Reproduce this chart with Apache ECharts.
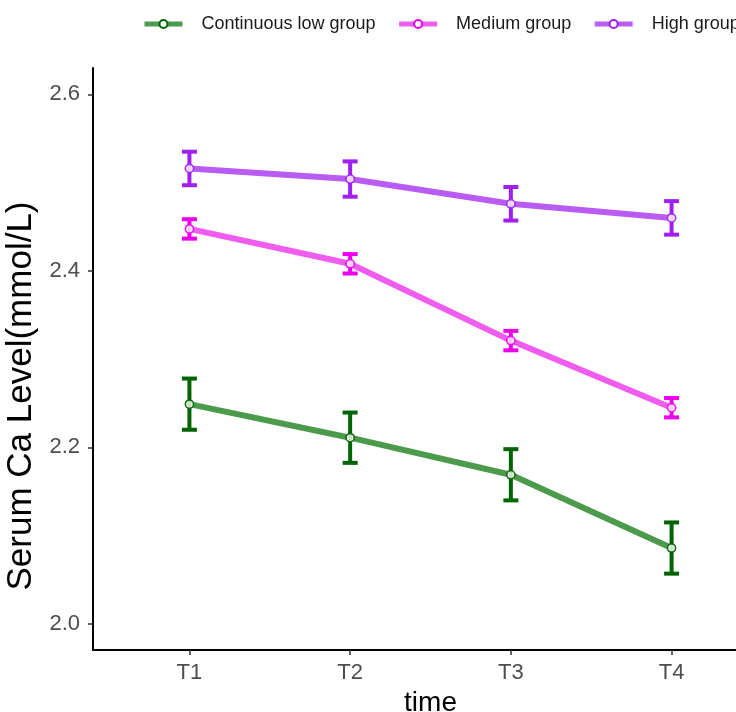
<!DOCTYPE html>
<html lang="en">
<head>
    <meta charset="utf-8">
    <title>Serum Ca Level</title>
    <script src="https://cdn.jsdelivr.net/npm/echarts@6/dist/echarts.min.js"></script>
    <style>
        html, body { margin: 0; padding: 0; background: #fff; }
        #chart { width: 736px; height: 712px; }
    </style>
</head>
<body>
    <div id="chart"></div>
    <script>
        // Data
        const timePoints = ['T1', 'T2', 'T3', 'T4'];
        const groupNames = ['Continuous low group', 'Medium group', 'High group'];
        const lowMean = [2.249, 2.211, 2.169, 2.086];
        const lowErr = [0.029, 0.0285, 0.029, 0.029];
        const mediumMean = [2.4475, 2.408, 2.321, 2.245];
        const mediumErr = [0.011, 0.011, 0.011, 0.011];
        const highMean = [2.516, 2.504, 2.476, 2.460];
        const highErr = [0.019, 0.020, 0.019, 0.019];
        const yTicks = [2.0, 2.2, 2.4, 2.6];

        const lineColors = ['#4c9a4c', '#f05cf0', '#b85cf4'];
        const barColors = ['#006400', '#ee00ee', '#a020f0'];
        const means = [lowMean, mediumMean, highMean];
        const errs = [lowErr, mediumErr, highErr];

        const chart = echarts.init(document.getElementById('chart'));
        const font = 'Liberation Sans, Arial, sans-serif';

        const series = [];
        groupNames.forEach(function (name, g) {
            // connecting line (legend entry)
            series.push({
                name: name,
                type: 'line',
                z: 2,
                data: means[g].map(function (v, i) { return [i + 1, v]; }),
                symbol: 'circle',
                symbolSize: 8,
                itemStyle: { color: '#fff', borderColor: barColors[g], borderWidth: 1.5 },
                lineStyle: { color: lineColors[g], width: 6 },
                emphasis: { disabled: true }
            });
            // error bars
            series.push({
                type: 'custom',
                z: 3,
                data: means[g].map(function (v, i) { return [i + 1, v - errs[g][i], v + errs[g][i]]; }),
                renderItem: function (params, api) {
                    const x = api.value(0);
                    const top = api.coord([x, api.value(2)]);
                    const bot = api.coord([x, api.value(1)]);
                    const half = 7.5;
                    const st = { stroke: barColors[g], lineWidth: 4 };
                    return {
                        type: 'group',
                        children: [
                            { type: 'line', shape: { x1: top[0], y1: top[1], x2: bot[0], y2: bot[1] }, style: st },
                            { type: 'line', shape: { x1: top[0] - half, y1: top[1], x2: top[0] + half, y2: top[1] }, style: st },
                            { type: 'line', shape: { x1: bot[0] - half, y1: bot[1], x2: bot[0] + half, y2: bot[1] }, style: st }
                        ]
                    };
                }
            });
            // points on top
            series.push({
                type: 'scatter',
                z: 4,
                data: means[g].map(function (v, i) { return [i + 1, v]; }),
                symbol: 'circle',
                symbolSize: 8,
                itemStyle: { color: '#fff', borderColor: barColors[g], borderWidth: 1.5 },
                emphasis: { disabled: true }
            });
        });

        chart.setOption({
            animation: false,
            legend: {
                data: groupNames,
                left: 142,
                top: 15,
                padding: 0,
                width: 1000,
                itemWidth: 38,
                itemHeight: 10,
                itemGap: 21,
                lineStyle: { width: 5 },
                textStyle: { fontFamily: font, fontSize: 18, color: '#1a1a1a', padding: [0, 0, 0, 14] }
            },
            grid: { left: 93, right: -32, top: 68, bottom: 62, outerBoundsMode: 'none' },
            xAxis: {
                type: 'value',
                min: 0.4,
                max: 4.6,
                name: 'time',
                nameLocation: 'middle',
                nameGap: 33,
                nameTextStyle: { fontFamily: font, fontSize: 28, color: '#000' },
                splitLine: { show: false },
                axisLine: { lineStyle: { color: '#000', width: 2 } },
                axisTick: { customValues: [1, 2, 3, 4], length: 5, lineStyle: { color: '#333', width: 1.5 } },
                axisLabel: {
                    customValues: [1, 2, 3, 4],
                    formatter: function (v) { return timePoints[Math.round(v) - 1]; },
                    margin: 12,
                    fontFamily: font, fontSize: 22, color: '#4d4d4d'
                }
            },
            yAxis: {
                type: 'value',
                min: 1.9705,
                max: 2.6298,
                name: 'Serum Ca Level(mmol/L)',
                nameLocation: 'middle',
                nameGap: 53,
                nameTextStyle: { fontFamily: font, fontSize: 35, color: '#000', padding: [0, 74, 0, 0] },
                splitLine: { show: false },
                axisLine: { show: true, lineStyle: { color: '#000', width: 2 } },
                axisTick: { show: true, customValues: yTicks, length: 5, lineStyle: { color: '#333', width: 1.5 } },
                axisLabel: {
                    customValues: yTicks,
                    formatter: function (v) { return v.toFixed(1); },
                    margin: 13,
                    fontFamily: font, fontSize: 22, color: '#4d4d4d'
                }
            },
            series: series
        });
    </script>
</body>
</html>
